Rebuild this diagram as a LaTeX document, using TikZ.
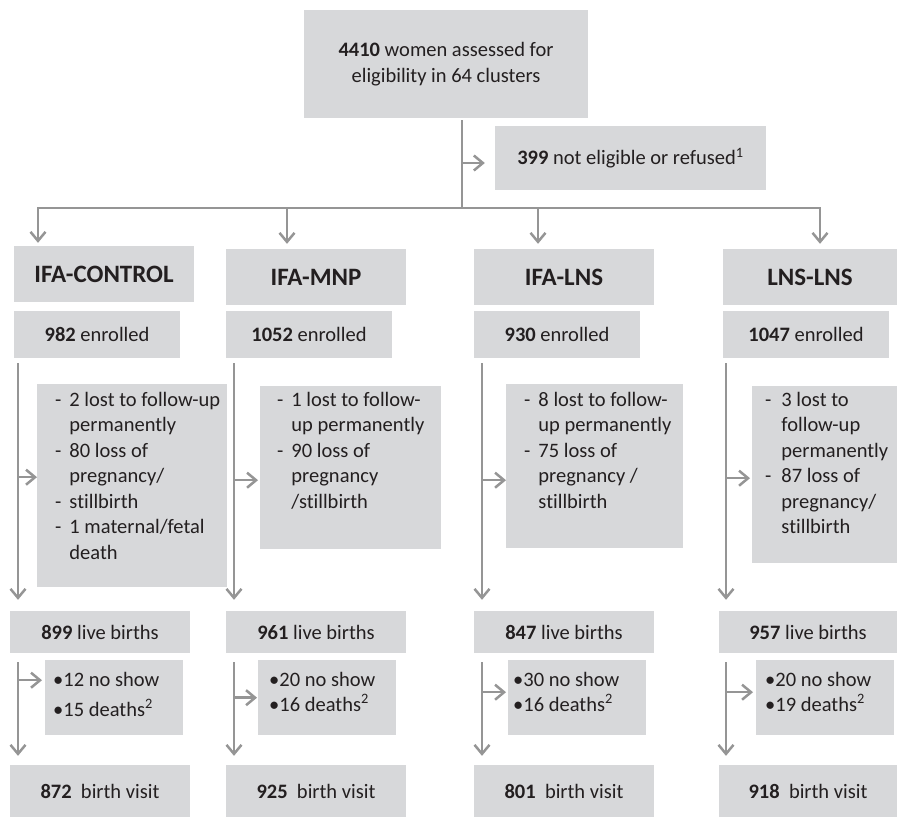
\documentclass[tikz,border=0pt]{standalone}
\usepackage{fontspec}
\setmainfont{Carlito}[Ligatures=NoCommon]
\usetikzlibrary{arrows.meta,positioning}
\definecolor{boxgray}{HTML}{D7D8DA}
\definecolor{linegray}{HTML}{959595}
\definecolor{ink}{HTML}{231F20}

\begin{document}
\begin{tikzpicture}[x=1pt,y=-1pt,
  every node/.style={text=ink,font=\fontsize{20.5}{25.5}\selectfont},
  box/.style={fill=boxgray,inner sep=0pt,align=center},
  head/.style={box,minimum width=180pt,minimum height=56pt,font=\bfseries\fontsize{25}{30}\selectfont},
  count/.style={box,minimum width=166pt,minimum height=47pt},
  live/.style={box,minimum width=180pt,minimum height=42pt},
  visit/.style={box,minimum width=180pt,minimum height=52pt},
  listtext/.style={inner sep=0pt,anchor=base west},
  grayline/.style={draw=linegray,line width=2.5pt},
  flow/.style={grayline,-{Straight Barb[length=9pt,width=15pt]}}]
\useasboundingbox (0,0) rectangle (897,817);

\node[box,minimum width=284pt,minimum height=108pt] (top) at (446,64) {\textbf{4410} women assessed for\\eligibility in 64 clusters};
\node[box,minimum width=271pt,minimum height=64pt] (excl) at (630.5,158) {\textbf{399} not eligible or refused\textsuperscript{1}};

% arms
\node[head] (head_1) at (104,274) {IFA-CONTROL};
\node[head] (head_2) at (316,277) {IFA-MNP};
\node[head] (head_3) at (564,277) {IFA-LNS};
\node[head,minimum width=174pt] (head_4) at (810,277) {LNS-LNS};

\node[count] (enr_1) at (97,334.5) {\textbf{982} enrolled};
\node[count] (enr_2) at (309,334.5) {\textbf{1052} enrolled};
\node[count] (enr_3) at (557,334.5) {\textbf{930} enrolled};
\node[count] (enr_4) at (806,334.5) {\textbf{1047} enrolled};

% losses during pregnancy
\node[box,anchor=north west,minimum width=190pt,minimum height=203pt] (loss_1) at (37,384) {};
\node[box,anchor=north west,minimum width=181pt,minimum height=163pt] (loss_2) at (260,386) {};
\node[box,anchor=north west,minimum width=177pt,minimum height=164pt] (loss_3) at (506,384) {};
\node[box,anchor=north west,minimum width=145pt,minimum height=177pt] (loss_4) at (752,386) {};
\node[listtext] (lossText_1) at (55,406) {\begin{tabular}[t]{@{}l@{\hspace{8pt}}l@{}}-&2 lost to follow-up\\&permanently\\-&80 loss of\\&pregnancy/\\-&stillbirth\\-&1 maternal/fetal\\&death\end{tabular}};
\node[listtext] (lossText_2) at (277,406) {\begin{tabular}[t]{@{}l@{\hspace{8pt}}l@{}}-&1 lost to follow-\\&up permanently\\-&90 loss of\\&pregnancy\\&/stillbirth\end{tabular}};
\node[listtext] (lossText_3) at (524,406) {\begin{tabular}[t]{@{}l@{\hspace{8pt}}l@{}}-&8 lost to follow-\\&up permanently\\-&75 loss of\\&pregnancy /\\&stillbirth\end{tabular}};
\node[listtext] (lossText_4) at (765,406) {\begin{tabular}[t]{@{}l@{\hspace{10pt}}l@{}}-&3 lost to\\&follow-up\\&permanently\\-&87 loss of\\&pregnancy/\\&stillbirth\end{tabular}};

\node[live] (live_1) at (100,632) {\textbf{899} live births};
\node[live] (live_2) at (316,632) {\textbf{961} live births};
\node[live] (live_3) at (564,632) {\textbf{847} live births};
\node[live,minimum width=178pt] (live_4) at (808,632) {\textbf{957} live births};

% missed birth visits
\node[box,anchor=north west,minimum width=138pt,minimum height=75pt] (miss_1) at (45,660) {};
\node[box,anchor=north west,minimum width=138pt,minimum height=75pt] (miss_2) at (258,660) {};
\node[box,anchor=north west,minimum width=138pt,minimum height=75pt] (miss_3) at (508,660) {};
\node[box,anchor=north west,minimum width=138pt,minimum height=75pt] (miss_4) at (756,660) {};
\node[listtext] (missText_1) at (53,686) {\begin{tabular}[t]{@{}l@{}}•12 no show\\[5pt]•15 deaths\textsuperscript{2}\end{tabular}};
\node[listtext] (missText_2) at (269,686) {\begin{tabular}[t]{@{}l@{}}•20 no show\\•16 deaths\textsuperscript{2}\end{tabular}};
\node[listtext] (missText_3) at (513,686) {\begin{tabular}[t]{@{}l@{}}•30 no show\\•16 deaths\textsuperscript{2}\end{tabular}};
\node[listtext] (missText_4) at (765,686) {\begin{tabular}[t]{@{}l@{}}•20 no show\\•19 deaths\textsuperscript{2}\end{tabular}};

\node[visit] (visit_1) at (100,791) {\textbf{872}\ \ birth visit};
\node[visit] (visit_2) at (316,791) {\textbf{925}\ \ birth visit};
\node[visit] (visit_3) at (564,791) {\textbf{801}\ \ birth visit};
\node[visit,minimum width=178pt] (visit_4) at (808,791) {\textbf{918}\ \ birth visit};

% screening and split
\coordinate (stem) at (462,120);
\coordinate (split) at (462,208);
\coordinate (bar_1) at (38,208);
\coordinate (bar_2) at (287,208);
\coordinate (bar_3) at (538,208);
\coordinate (bar_4) at (820,208);
\draw[grayline] (stem) -- (split);
\draw[flow,shorten >=10pt] ([yshift=-5pt]excl.west -| stem) -- ([yshift=-5pt]excl.west);
\draw[grayline,line cap=rect] (bar_1) -- (bar_4);
\draw[flow,shorten >=3pt] (bar_1) -- (bar_1 |- head_1.north);
\draw[flow,shorten >=5pt] (bar_2) -- (bar_2 |- head_2.north);
\draw[flow,shorten >=5pt] (bar_3) -- (bar_3 |- head_3.north);
\draw[flow,shorten >=5pt] (bar_4) -- (bar_4 |- head_4.north);

% follow-up per arm
\foreach \i/\x in {1/18,2/234,3/482,4/726} {
  \coordinate (col_\i) at (\x,0);
  \draw[flow,shorten <=5pt,shorten >=11pt] (col_\i |- enr_\i.south) -- (col_\i |- live_\i.north);
  \draw[flow,shorten <=9pt,shorten >=9pt] (col_\i |- live_\i.south) -- (col_\i |- visit_\i.north);
}
\draw[flow] ([yshift=8.5pt]loss_1.west -| col_1) -- ([yshift=8.5pt]loss_1.west);
\draw[flow,shorten >=2pt] ([yshift=-12.5pt]loss_2.west -| col_2) -- ([yshift=-12.5pt]loss_2.west);
\draw[flow] ([yshift=-14pt]loss_3.west -| col_3) -- ([yshift=-14pt]loss_3.west);
\draw[flow,shorten >=2pt] ([yshift=-3.5pt]loss_4.west -| col_4) -- ([yshift=-3.5pt]loss_4.west);
\draw[flow,shorten >=3pt] ([yshift=17.5pt]miss_1.west -| col_1) -- ([yshift=17.5pt]miss_1.west);
\draw[flow,shorten >=1pt] (miss_2.west -| col_2) -- (miss_2.west);
\draw[flow,shorten >=2pt] ([yshift=5.5pt]miss_3.west -| col_3) -- ([yshift=5.5pt]miss_3.west);
\draw[flow,shorten >=3pt] ([yshift=5.5pt]miss_4.west -| col_4) -- ([yshift=5.5pt]miss_4.west);
\end{tikzpicture}
\end{document}
